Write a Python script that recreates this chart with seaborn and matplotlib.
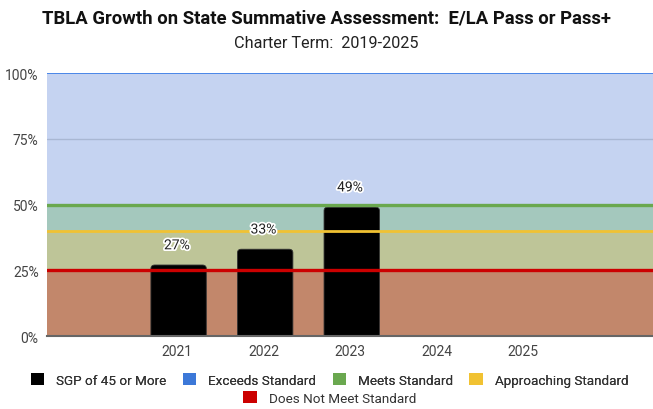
import matplotlib
matplotlib.use("Agg")
import matplotlib.pyplot as plt
import matplotlib.patheffects as pe
from matplotlib.patches import Patch, FancyBboxPatch
import seaborn as sns
import pandas as pd
import numpy as np

# data
years = ["2020", "2021", "2022", "2023", "2024", "2025", "2026"]
tick_labels = ["", "2021", "2022", "2023", "2024", "2025", ""]
sgp_pct = [np.nan, 27, 33, 49, np.nan, np.nan, np.nan]

band_names = ["Exceeds Standard", "Meets Standard", "Approaching Standard", "Does Not Meet Standard"]
band_top = [100, 50, 40, 25]

sns.set_theme(style="white")
plt.rcParams["font.family"] = ["Roboto", "DejaVu Sans"]

df = pd.DataFrame({"year": years, "pct": sgp_pct})

fig = plt.figure(figsize=(6.53, 4.10), dpi=100)
ax = fig.add_axes([0.072, 0.178, 0.928, 0.6415])

sns.barplot(data=df, x="year", y="pct", order=years, color="black",
            width=0.64, ax=ax, zorder=2, edgecolor="#333333", linewidth=0.6)

# round the bar tops (bottom corners hidden below the axis)
for p in list(ax.containers[0]):
    h = p.get_height()
    x0, w = p.get_x(), p.get_width()
    p.set_visible(False)
    if np.isnan(h) or h == 0:
        continue
    rb = FancyBboxPatch((x0 + 0.02, -3), w, h + 3,
                        boxstyle="round,pad=0,rounding_size=0.045",
                        mutation_aspect=30, facecolor="black",
                        edgecolor="#333333", linewidth=0.6, zorder=2)
    ax.add_patch(rb)

# background bands (blended look of stacked translucent areas)
band_fill = ["#c5d3f1", "#a4c8bd", "#bec598", "#c2876b"]
band_line = ["#4a86e8", "#6aa84f", "#f1c232", "#cc0000"]
band_lw = [1.4, 2.4, 2.0, 2.4]
bottoms = band_top[1:] + [0]
for top, bot, c in zip(band_top, bottoms, band_fill):
    ax.axhspan(bot, top, color=c, zorder=0, lw=0)

# threshold lines drawn over the bars
ax.axhline(75, color="#a9b7d3", lw=1.0, zorder=3)
for top, c, lw in zip(band_top, band_line, band_lw):
    ax.axhline(top, color=c, lw=lw, zorder=3)

# value labels
for i, v in enumerate(sgp_pct):
    if not np.isnan(v):
        ax.text(i, v + 7.5, f"{v:.0f}%", ha="center", va="center", fontsize=10,
                color="#222222", zorder=5,
                path_effects=[pe.withStroke(linewidth=2.5, foreground="white")])

ax.set_ylim(0, 100)
ax.set_xlim(-0.5, 6.5)
ax.set_yticks([0, 25, 50, 75, 100])
ax.set_yticklabels(["0%", "25%", "50%", "75%", "100%"], fontsize=10, color="#444444")
ax.set_xticks(range(len(years)))
ax.set_xticklabels(tick_labels, fontsize=10, color="#444444")
ax.set_xlabel("")
ax.set_ylabel("")
ax.tick_params(axis="both", length=0, pad=6)
for s in ["top", "right", "left"]:
    ax.spines[s].set_visible(False)
ax.spines["bottom"].set_color("#666666")
ax.spines["bottom"].set_linewidth(1.5)
ax.spines["bottom"].set_zorder(4)

fig.text(0.5, 0.955, "TBLA Growth on State Summative Assessment:  E/LA Pass or Pass+",
         ha="center", va="center", fontsize=13.3, fontweight="bold", color="#111111")
fig.text(0.5, 0.893, "Charter Term:  2019-2025", ha="center", va="center",
         fontsize=11.7, color="#222222")

# legend in two centered rows
legend_colors = ["black", "#3c78d8", "#6aa84f", "#f1c232", "#cc0000"]
legend_names = ["SGP of 45 or More"] + band_names
handles = [Patch(facecolor=c, edgecolor="none") for c in legend_colors]
leg1 = fig.legend(handles[:4], legend_names[:4], loc="center", ncol=4,
                  bbox_to_anchor=(0.505, 0.071), frameon=False, fontsize=9.7,
                  handlelength=1.0, handleheight=1.0, columnspacing=1.2,
                  handletextpad=0.9, labelcolor="#333333")
leg2 = fig.legend(handles[4:], legend_names[4:], loc="center", ncol=1,
                  bbox_to_anchor=(0.505, 0.027), frameon=False, fontsize=9.7,
                  handlelength=1.0, handleheight=1.0, handletextpad=0.9,
                  labelcolor="#333333")
fig.add_artist(leg1)

fig.savefig("out.png", dpi=100)
